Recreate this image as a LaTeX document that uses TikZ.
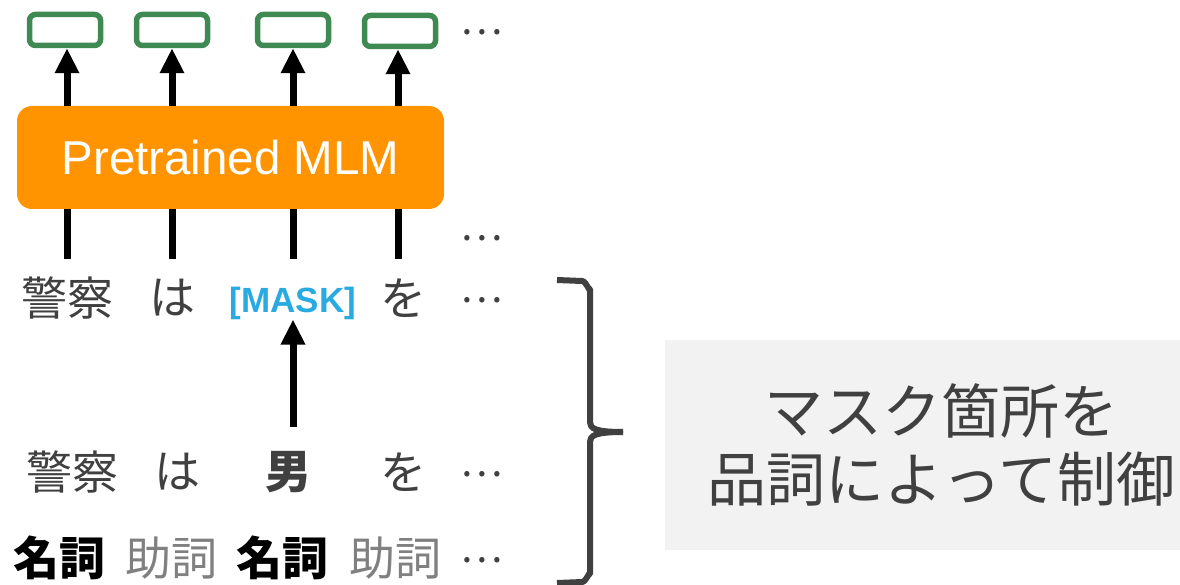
\documentclass[tikz,border=0pt]{standalone}
\usepackage{fontspec}
\setmainfont{Liberation Sans}
\newfontfamily\jp{Noto Sans CJK JP}
\usetikzlibrary{arrows.meta}
\definecolor{grn}{HTML}{3E8A52}
\definecolor{org}{HTML}{FF9400}
\definecolor{dk}{HTML}{404040}
\definecolor{lg}{HTML}{808080}
\definecolor{bl}{HTML}{29ABE2}
\definecolor{bx}{HTML}{F2F2F2}
\begin{document}
\begin{tikzpicture}[x=1pt,y=-1pt,
  outbox/.style={draw=grn,line width=5.5pt,rounded corners=6pt,minimum width=71pt,minimum height=31pt,inner sep=0pt},
  tok/.style={inner sep=0pt,text=dk,font=\jp\fontsize{46}{50}\selectfont},
  postag/.style={inner sep=0pt,font=\jp\fontsize{46}{50}\selectfont},
  dots/.style={inner sep=0pt,text=dk,font=\jp\fontsize{40}{44}\selectfont},
  upar/.style={line width=7pt,-{Triangle[width=23pt,length=25pt]}},
  stem/.style={line width=7pt},
  brace/.style={draw=dk,line width=6pt,line join=round}
]
\useasboundingbox (0,0) rectangle (1180,585);
% output boxes
\node[outbox] (o1) at (65,30) {};
\node[outbox] (o2) at (172,30) {};
\node[outbox] (o3) at (293,30) {};
\node[outbox] (o4) at (400,31) {};
\node[dots] (dt1) at (482,32) {…};
% model
\node[fill=org,rounded corners=15pt,minimum width=427pt,minimum height=103pt,inner sep=0pt,
  text=white,font=\fontsize{47.5}{50}\selectfont] (mlm) at (230.5,157.5) {Pretrained MLM};
\coordinate (c1) at (67,259);
\coordinate (c2) at (172,259);
\coordinate (c3) at (293,259);
\coordinate (c4) at (398,259);
\node[dots] (dt2) at (482,238) {…};
% row 1
\node[tok] (a1) at (67,298) {警察};
\node[tok] (a2) at (172,298) {は};
\node[inner sep=0pt,text=bl,font=\bfseries\fontsize{35}{40}\selectfont] (mask) at (293,303) {[MASK]};
\node[tok] (a4) at (403,298) {を};
\node[dots] (dt3) at (482,300) {…};
% arrows through model
\draw[upar] (mlm.north -| c1) -- (o1.south -| c1);
\draw[upar] (mlm.north -| c2) -- (o2.south -| c2);
\draw[upar] (mlm.north -| c3) -- (o3.south -| c3);
\draw[upar] (mlm.north -| c4) -- (o4.south -| c4);
\draw[stem] (c1) -- (mlm.south -| c1);
\draw[stem] (c2) -- (mlm.south -| c2);
\draw[stem] (c3) -- (mlm.south -| c3);
\draw[stem] (c4) -- (mlm.south -| c4);
% row 2
\node[tok] (b1) at (72,472) {警察};
\node[tok] (b2) at (177,472) {は};
\node[tok,font=\jp\bfseries\fontsize{46}{50}\selectfont] (b3) at (288,472) {男};
\node[tok] (b4) at (403,472) {を};
\node[dots] (dt4) at (482,474) {…};
\coordinate (mb) at (293,427);
\draw[upar] (mb) -- (mask.south -| mb) ;
% row 3
\node[postag,text=black,font=\jp\bfseries\fontsize{46}{50}\selectfont] (p1) at (59,558) {名詞};
\node[postag,text=lg] (p2) at (171,558) {助詞};
\node[postag,text=black,font=\jp\bfseries\fontsize{46}{50}\selectfont] (p3) at (282,558) {名詞};
\node[postag,text=lg] (p4) at (395,558) {助詞};
\node[dots] (dt5) at (482,560) {…};
% brace
\draw[brace] (557,280) -- (582,281) to[out=0,in=-90] (590,289) -- (590,422)
  .. controls (590,428) and (594,432) .. (623,432);
\draw[brace] (623,432) .. controls (594,432) and (590,436) .. (590,442) -- (590,574)
  to[out=90,in=0] (582,582) -- (557,583);
% note box
\node[fill=bx,minimum width=515pt,minimum height=210pt,inner sep=0pt,align=center,text=dk,
  font=\jp\fontsize{59}{68}\selectfont] (note) at (922.5,445)
  {\hspace*{38pt}マスク箇所を\\\hspace*{38pt}品詞によって制御};
\end{tikzpicture}
\end{document}
